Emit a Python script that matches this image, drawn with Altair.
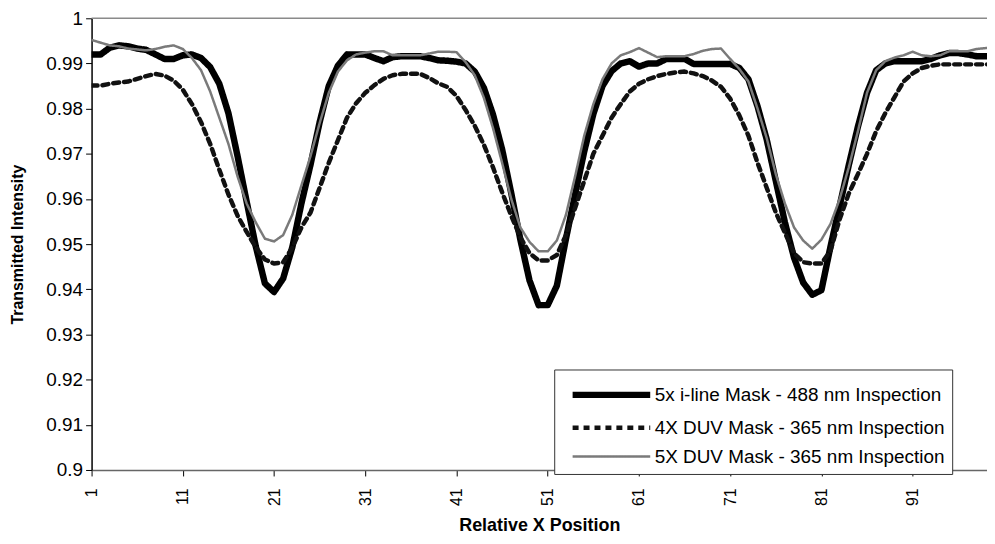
import altair as alt
import pandas as pd

positions = list(range(1, 101))

series_names = [
    "5x i-line Mask - 488 nm Inspection",
    "4X DUV Mask - 365 nm Inspection",
    "5X DUV Mask - 365 nm Inspection",
]

iline_488 = [
    0.9920, 0.9920, 0.9935, 0.9940, 0.9938, 0.9933, 0.9930, 0.9920, 0.9910, 0.9910,
    0.9918, 0.9920, 0.9912, 0.9892, 0.9855, 0.9790, 0.9695, 0.9594, 0.9495, 0.9413,
    0.9394, 0.9424, 0.9493, 0.9590, 0.9676, 0.9770, 0.9850, 0.9895, 0.9920, 0.9920,
    0.9920, 0.9912, 0.9905, 0.9914, 0.9916, 0.9916, 0.9916, 0.9912, 0.9907, 0.9906,
    0.9904, 0.9900, 0.9882, 0.9846, 0.9787, 0.9710, 0.9613, 0.9510, 0.9420, 0.9365,
    0.9365, 0.9408, 0.9512, 0.9610, 0.9705, 0.9788, 0.9850, 0.9883, 0.9900, 0.9905,
    0.9893, 0.9900, 0.9900, 0.9910, 0.9910, 0.9910, 0.9899, 0.9899, 0.9899, 0.9899,
    0.9899, 0.9890, 0.9865, 0.9805, 0.9732, 0.9640, 0.9548, 0.9470, 0.9415, 0.9388,
    0.9398, 0.9495, 0.9585, 0.9675, 0.9760, 0.9835, 0.9885, 0.9900, 0.9905, 0.9905,
    0.9905, 0.9905, 0.9910, 0.9918, 0.9923, 0.9923, 0.9920, 0.9916, 0.9916, 0.9916,
]

duv4x_365 = [
    0.9851, 0.9851, 0.9855, 0.9858, 0.9860, 0.9866, 0.9872, 0.9877, 0.9873, 0.9862,
    0.9842, 0.9810, 0.9770, 0.9722, 0.9665, 0.9610, 0.9563, 0.9527, 0.9493, 0.9466,
    0.9457, 0.9460, 0.9492, 0.9537, 0.9570, 0.9625, 0.9680, 0.9730, 0.9780, 0.9812,
    0.9835, 0.9852, 0.9866, 0.9874, 0.9877, 0.9877, 0.9877, 0.9868, 0.9856, 0.9848,
    0.9828, 0.9797, 0.9762, 0.9720, 0.9670, 0.9615, 0.9563, 0.9515, 0.9480, 0.9464,
    0.9464, 0.9476, 0.9520, 0.9580, 0.9640, 0.9700, 0.9740, 0.9780, 0.9810, 0.9838,
    0.9855, 0.9865, 0.9872, 0.9877, 0.9880, 0.9882, 0.9878, 0.9872, 0.9862, 0.9848,
    0.9822, 0.9785, 0.9740, 0.9680, 0.9625, 0.9570, 0.9525, 0.9480, 0.9460, 0.9457,
    0.9457, 0.9486, 0.9555, 0.9612, 0.9655, 0.9700, 0.9750, 0.9790, 0.9825, 0.9860,
    0.9878, 0.9890, 0.9895, 0.9898, 0.9898, 0.9898, 0.9898, 0.9898, 0.9898, 0.9898,
]

duv5x_365 = [
    0.9952, 0.9946, 0.9940, 0.9938, 0.9933, 0.9931, 0.9929, 0.9932, 0.9937, 0.9940,
    0.9932, 0.9912, 0.9885, 0.9838, 0.9780, 0.9722, 0.9650, 0.9590, 0.9548, 0.9512,
    0.9506, 0.9520, 0.9565, 0.9630, 0.9695, 0.9768, 0.9835, 0.9882, 0.9907, 0.9920,
    0.9924, 0.9927, 0.9927, 0.9918, 0.9918, 0.9918, 0.9918, 0.9922, 0.9926, 0.9926,
    0.9925, 0.9903, 0.9874, 0.9824, 0.9757, 0.9680, 0.9600, 0.9537, 0.9505, 0.9484,
    0.9484, 0.9508, 0.9565, 0.9650, 0.9740, 0.9810, 0.9865, 0.9900, 0.9918, 0.9925,
    0.9934, 0.9924, 0.9914, 0.9916, 0.9916, 0.9916, 0.9921, 0.9928, 0.9932, 0.9933,
    0.9910, 0.9888, 0.9860, 0.9800, 0.9735, 0.9655, 0.9590, 0.9537, 0.9508, 0.9490,
    0.9510, 0.9545, 0.9600, 0.9670, 0.9750, 0.9835, 0.9885, 0.9905, 0.9913, 0.9918,
    0.9926, 0.9918, 0.9916, 0.9918, 0.9927, 0.9927, 0.9927, 0.9932, 0.9934, 0.9934,
]

x_tick_values = [1, 11, 21, 31, 41, 51, 61, 71, 81, 91]
y_tick_values = [0.90, 0.91, 0.92, 0.93, 0.94, 0.95, 0.96, 0.97, 0.98, 0.99, 1.00]
top_border = [1.0]

rows = []
for name, vals in zip(series_names, [iline_488, duv4x_365, duv5x_365]):
    for p, v in zip(positions, vals):
        rows.append({"pos": p, "value": v, "series": name})
df = pd.DataFrame(rows)

FONT = "Liberation Sans"

legend = alt.Legend(
    title=None,
    orient="none",
    legendX=465,
    legendY=353,
    symbolType="M-2.6,0H2.6",
    symbolSize=900,
    symbolOffset=32,
    labelOffset=25,
    labelFontSize=19,
    labelFont=FONT,
    labelColor="#000",
    labelLimit=500,
    strokeColor="#333",
    fillColor="white",
    padding=7,
    rowPadding=2,
)

lines = alt.Chart(df).mark_line(clip=True, strokeJoin="round", strokeCap="round").encode(
    x=alt.X(
        "pos:Q",
        scale=alt.Scale(domain=[1, 99.15], nice=False, zero=False),
        axis=alt.Axis(
            values=x_tick_values,
            title="Relative X Position",
            labelAngle=-90,
            labelAlign="right",
            labelBaseline="middle",
            labelPadding=12,
            labelFontSize=16,
            tickSize=6,
            titleY=47,
            titleBaseline="top",
            titleFontSize=18,
        ),
    ),
    y=alt.Y(
        "value:Q",
        scale=alt.Scale(domain=[0.9, 1.0], nice=False, zero=False),
        axis=alt.Axis(
            values=y_tick_values,
            title="Transmitted Intensity",
            tickSize=6,
            labelPadding=3,
            labelFontSize=19,
            titleX=-66,
            titleBaseline="bottom",
            titleFontSize=16,
            labelExpr="format(datum.value, '.2~f')",
        ),
    ),
    color=alt.Color(
        "series:N",
        scale=alt.Scale(domain=series_names, range=["#000000", "#111111", "#7a7a7a"]),
        legend=legend,
    ),
    strokeDash=alt.StrokeDash(
        "series:N",
        scale=alt.Scale(domain=series_names, range=[[1, 0], [6, 5], [1, 0]]),
        legend=legend,
    ),
    strokeWidth=alt.StrokeWidth(
        "series:N",
        scale=alt.Scale(domain=series_names, range=[6.5, 2.5, 2.5]),
        legend=legend,
    ),
)

top = alt.Chart(pd.DataFrame({"y": top_border})).mark_rule(color="#8a8a8a", strokeWidth=1.5).encode(
    y=alt.Y("y:Q")
)

chart = alt.layer(lines, top).properties(
    width=900,
    height=454,
    autosize=alt.AutoSizeParams(type="none"),
    padding={"left": 84, "top": 9, "right": 0, "bottom": 64},
).configure_view(stroke=None).configure_axis(
    grid=False,
    labelFont=FONT,
    labelColor="#000",
    titleFont=FONT,
    titleFontWeight="bold",
    titleColor="#000",
    tickColor="#000",
    domainColor="#000",
    domainWidth=1.5,
    tickWidth=1,
).configure_axisX(domainColor="#666")

chart.save("out.html", embed_options={"renderer": "svg", "actions": False})
